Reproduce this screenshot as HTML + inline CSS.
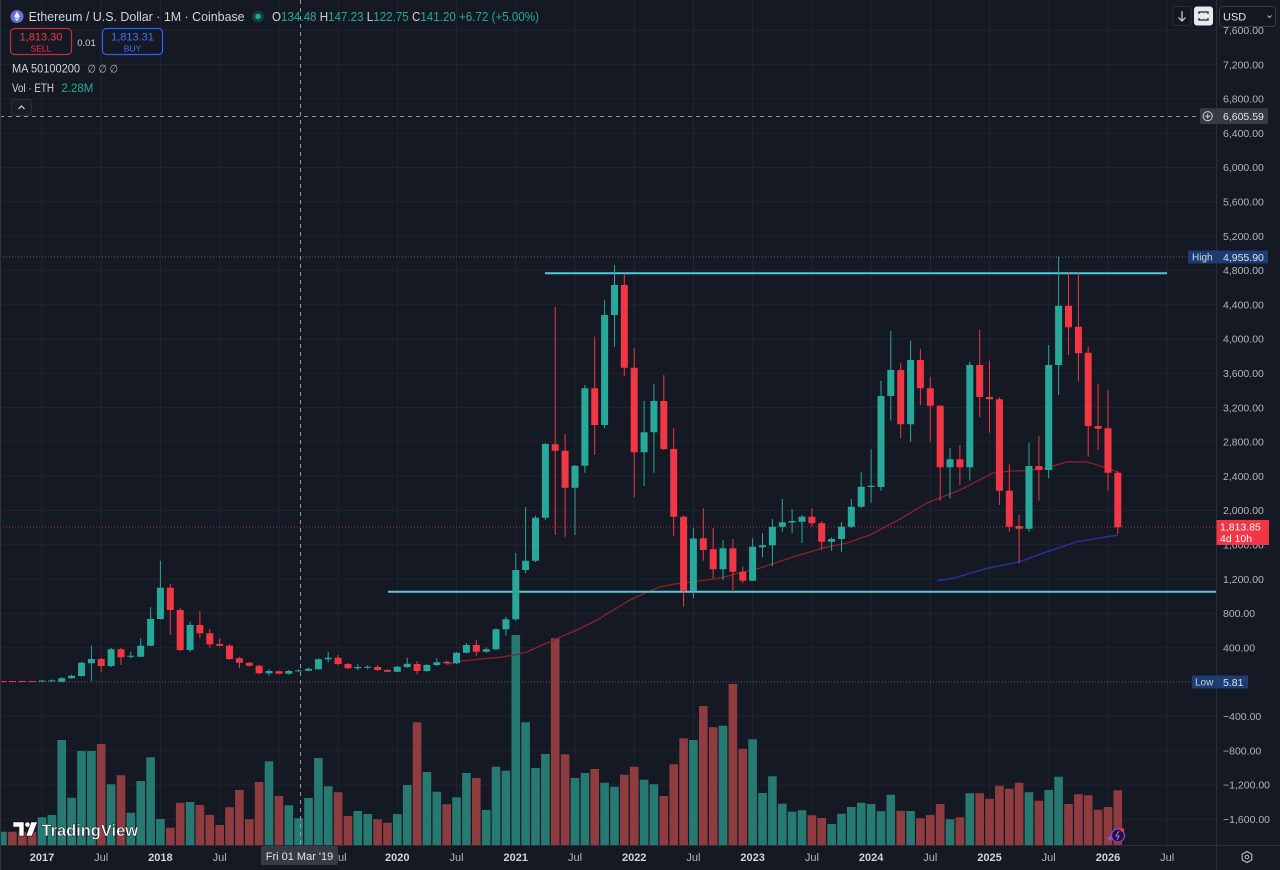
<!DOCTYPE html>
<html><head><meta charset="utf-8"><style>
html,body{margin:0;padding:0;background:#151924;}
svg{display:block;font-family:"Liberation Sans",sans-serif;}
</style></head><body>
<svg width="1280" height="870" viewBox="0 0 1280 870" xmlns="http://www.w3.org/2000/svg">
<rect width="1280" height="870" fill="#151924"/>
<!-- grid -->
<g stroke="#1f232e" stroke-width="1">
<path d="M0 30.3H1216M0 64.6H1216M0 98.9H1216M0 133.2H1216M0 167.5H1216M0 201.8H1216M0 236.1H1216M0 270.4H1216M0 304.7H1216M0 339H1216M0 373.3H1216M0 407.6H1216M0 441.9H1216M0 476.2H1216M0 510.5H1216M0 544.8H1216M0 579.1H1216M0 613.4H1216M0 647.7H1216M0 716.3H1216M0 750.6H1216M0 784.9H1216M0 819.2H1216"/>
<path d="M42 0V845M101.2 0V845M160.4 0V845M219.7 0V845M278.9 0V845M338.1 0V845M397.3 0V845M456.5 0V845M515.8 0V845M575 0V845M634.2 0V845M693.4 0V845M752.6 0V845M811.9 0V845M871.1 0V845M930.3 0V845M989.5 0V845M1048.7 0V845M1108 0V845M1167.2 0V845"/>
</g>
<!-- volume -->
<path fill="#277a72" d="M-1.8 831.7h8.6V845h-8.6zM37.7 817.3h8.6V845h-8.6zM47.6 815h8.6V845h-8.6zM57.4 740h8.6V845h-8.6zM67.3 797.7h8.6V845h-8.6zM77.2 751h8.6V845h-8.6zM87.1 751h8.6V845h-8.6zM106.8 784.3h8.6V845h-8.6zM126.5 812.7h8.6V845h-8.6zM136.4 781h8.6V845h-8.6zM146.3 757.3h8.6V845h-8.6zM156.1 819h8.6V845h-8.6zM185.8 802h8.6V845h-8.6zM264.7 761.3h8.6V845h-8.6zM284.5 805.3h8.6V845h-8.6zM294.3 818.3h8.6V845h-8.6zM304.2 798h8.6V845h-8.6zM314.1 758h8.6V845h-8.6zM323.9 786.3h8.6V845h-8.6zM353.5 811h8.6V845h-8.6zM363.4 814h8.6V845h-8.6zM393 814h8.6V845h-8.6zM402.9 785h8.6V845h-8.6zM422.6 772h8.6V845h-8.6zM432.5 791.7h8.6V845h-8.6zM452.2 797.3h8.6V845h-8.6zM462.1 773h8.6V845h-8.6zM481.9 810h8.6V845h-8.6zM491.7 766.7h8.6V845h-8.6zM501.6 770.7h8.6V845h-8.6zM511.5 635h8.6V845h-8.6zM521.3 722.3h8.6V845h-8.6zM531.2 768h8.6V845h-8.6zM541.1 754h8.6V845h-8.6zM570.7 778h8.6V845h-8.6zM580.6 773h8.6V845h-8.6zM600.3 782.7h8.6V845h-8.6zM610.2 786.7h8.6V845h-8.6zM639.8 779.7h8.6V845h-8.6zM649.6 784.3h8.6V845h-8.6zM689.1 740h8.6V845h-8.6zM718.7 725.7h8.6V845h-8.6zM748.3 739.3h8.6V845h-8.6zM758.2 793h8.6V845h-8.6zM768.1 776.3h8.6V845h-8.6zM778 803.7h8.6V845h-8.6zM787.8 811.7h8.6V845h-8.6zM797.7 810.3h8.6V845h-8.6zM827.3 824h8.6V845h-8.6zM837.2 813.7h8.6V845h-8.6zM847 807h8.6V845h-8.6zM856.9 802.7h8.6V845h-8.6zM866.8 804h8.6V845h-8.6zM876.7 811.3h8.6V845h-8.6zM886.5 794.7h8.6V845h-8.6zM906.3 811h8.6V845h-8.6zM945.7 819.3h8.6V845h-8.6zM965.5 793.3h8.6V845h-8.6zM1024.7 792.3h8.6V845h-8.6zM1044.4 790h8.6V845h-8.6zM1054.3 776.7h8.6V845h-8.6z"/>
<path fill="#8e3c40" d="M8.1 831.7h8.6V845h-8.6zM18 831.7h8.6V845h-8.6zM27.8 831.7h8.6V845h-8.6zM96.9 744h8.6V845h-8.6zM116.7 775.3h8.6V845h-8.6zM166 827.7h8.6V845h-8.6zM175.9 802.7h8.6V845h-8.6zM195.6 805h8.6V845h-8.6zM205.5 815h8.6V845h-8.6zM215.4 825h8.6V845h-8.6zM225.2 807.3h8.6V845h-8.6zM235.1 790h8.6V845h-8.6zM245 819.3h8.6V845h-8.6zM254.8 782h8.6V845h-8.6zM274.6 796h8.6V845h-8.6zM333.8 792.3h8.6V845h-8.6zM343.7 816h8.6V845h-8.6zM373.3 819.3h8.6V845h-8.6zM383.2 822.7h8.6V845h-8.6zM412.8 722.3h8.6V845h-8.6zM442.4 804.3h8.6V845h-8.6zM472 778h8.6V845h-8.6zM550.9 638.3h8.6V845h-8.6zM560.8 754.3h8.6V845h-8.6zM590.4 769h8.6V845h-8.6zM620 774.7h8.6V845h-8.6zM629.9 766.7h8.6V845h-8.6zM659.5 796h8.6V845h-8.6zM669.4 764.3h8.6V845h-8.6zM679.3 738.3h8.6V845h-8.6zM699 706h8.6V845h-8.6zM708.9 727.3h8.6V845h-8.6zM728.6 684h8.6V845h-8.6zM738.5 748.7h8.6V845h-8.6zM807.6 815.3h8.6V845h-8.6zM817.4 818h8.6V845h-8.6zM896.4 810.7h8.6V845h-8.6zM916.1 818.3h8.6V845h-8.6zM926 815h8.6V845h-8.6zM935.9 804h8.6V845h-8.6zM955.6 817.3h8.6V845h-8.6zM975.4 793.3h8.6V845h-8.6zM985.2 798.7h8.6V845h-8.6zM995.1 785.7h8.6V845h-8.6zM1005 788.7h8.6V845h-8.6zM1014.8 782.7h8.6V845h-8.6zM1034.6 800.7h8.6V845h-8.6zM1064.2 804h8.6V845h-8.6zM1074.1 794.3h8.6V845h-8.6zM1083.9 795.3h8.6V845h-8.6zM1093.8 809.7h8.6V845h-8.6zM1103.7 807h8.6V845h-8.6zM1113.5 790.3h8.6V845h-8.6z"/>
<!-- dotted / dashed lines -->
<path d="M0 257H1188" stroke="#5d606b" stroke-width="1" stroke-dasharray="1 2"/>
<path d="M0 682H1192" stroke="#5d606b" stroke-width="1" stroke-dasharray="1 2"/>
<path d="M0 527H1216" stroke="#f23645" stroke-opacity="0.7" stroke-width="1" stroke-dasharray="1 2"/>
<!-- MAs -->
<polyline fill="none" stroke="#8c2030" stroke-width="1.3" points="446,664.5 462,661 480,659 500,657.3 515,655 527,651.7 540,646 550,641.7 565,635 577,630 597,620 615,609 630,600 645,593 660,587 675,584 693,582 720,578 760,568 793,557 827,547 847,543 870,535 885,527 900,519 927,503 960,490 993,473 1010,471 1027,470.7 1047,468 1067,461.7 1087,462 1103,466.7 1118,472"/>
<polyline fill="none" stroke="#2b2f9c" stroke-width="1.5" points="937,580.7 953,578.3 987,568.3 1020,561.7 1047,551.7 1077,541.7 1100,538 1118,535"/>
<!-- cyan lines -->
<path d="M545 273.3H1167M388 591.7H1216" stroke="#55c8da" stroke-width="2"/>
<!-- candles -->
<path fill="#26a99a" d="M41.5 680h1V682h-1zM38.5 680.6h7V681.6h-7zM51.4 679.5h1V681.5h-1zM48.4 680.4h7V681.4h-7zM61.2 677h1V682h-1zM58.2 678.3h7V681.7h-7zM71.1 674.5h1V678.8h-1zM68.1 675.7h7V678.3h-7zM81 662h1V676.5h-1zM78 662.7h7V676h-7zM90.9 645.7h1V681h-1zM87.9 659h7V663.3h-7zM110.6 648h1V667h-1zM107.6 649.3h7V666h-7zM130.3 651.7h1V658.3h-1zM127.3 655.7h7V656.7h-7zM140.2 638.3h1V657h-1zM137.2 645.7h7V656.7h-7zM150.1 607.3h1V646h-1zM147.1 619h7V645.7h-7zM159.9 560.7h1V619.5h-1zM156.9 587.7h7V619h-7zM189.6 621.7h1V651.7h-1zM186.6 625h7V650h-7zM268.5 669.3h1V675.7h-1zM265.5 671h7V673.3h-7zM288.3 670h1V674.5h-1zM285.3 671h7V673.7h-7zM298.1 669.4h1V671.8h-1zM295.1 670.4h7V671.4h-7zM308 667.5h1V671.3h-1zM305 668.7h7V670.7h-7zM317.9 658.3h1V669.7h-1zM314.9 659.3h7V669.3h-7zM327.7 651.7h1V662.3h-1zM324.7 657.7h7V659.3h-7zM357.3 664.3h1V670h-1zM354.3 667h7V668.3h-7zM367.2 665.3h1V669.3h-1zM364.2 666.7h7V667.7h-7zM396.8 666h1V672h-1zM393.8 666.7h7V671.7h-7zM406.7 657.7h1V668h-1zM403.7 663.7h7V667h-7zM426.4 664.5h1V672h-1zM423.4 665h7V671h-7zM436.3 658.3h1V666h-1zM433.3 662.3h7V665h-7zM456 652h1V664h-1zM453 652.7h7V663.3h-7zM465.9 643.3h1V653.5h-1zM462.9 645h7V652.7h-7zM485.7 647.3h1V653h-1zM482.7 649.3h7V651.7h-7zM495.5 628.3h1V650h-1zM492.5 629.3h7V649.3h-7zM505.4 616.7h1V636h-1zM502.4 619.3h7V629.3h-7zM515.3 553h1V621h-1zM512.3 570h7V619.3h-7zM525.1 507h1V573.3h-1zM522.1 560.7h7V570h-7zM535 515.7h1V562h-1zM532 517.7h7V560.7h-7zM544.9 443h1V520h-1zM541.9 444h7V517.7h-7zM574.5 465h1V535h-1zM571.5 465.7h7V487.7h-7zM584.4 385h1V472.7h-1zM581.4 388.3h7V465.7h-7zM604.1 300h1V428h-1zM601.1 315h7V425h-7zM614 265h1V346.7h-1zM611 285h7V315h-7zM643.6 401h1V486h-1zM640.6 432.3h7V452.3h-7zM653.4 384.3h1V472.7h-1zM650.4 401h7V432.3h-7zM692.9 528h1V598.3h-1zM689.9 538.5h7V591h-7zM722.5 540h1V580h-1zM719.5 548.3h7V569.3h-7zM752.1 538.3h1V581h-1zM749.1 546.7h7V580.7h-7zM762 533.3h1V557.3h-1zM759 545.3h7V547.3h-7zM771.9 519h1V566h-1zM768.9 526.7h7V545.3h-7zM781.8 499h1V531.7h-1zM778.8 522.3h7V526.7h-7zM791.6 509h1V533h-1zM788.6 521h7V522.5h-7zM801.5 515h1V543h-1zM798.5 516.7h7V521.7h-7zM831.1 537.3h1V550.7h-1zM828.1 539h7V541.7h-7zM841 522.3h1V551.7h-1zM838 526.7h7V539h-7zM850.8 499h1V528h-1zM847.8 506.7h7V526.7h-7zM860.7 472.3h1V508.3h-1zM857.7 486.7h7V506.7h-7zM870.6 449.3h1V502.7h-1zM867.6 485.7h7V487h-7zM880.5 380.7h1V490.7h-1zM877.5 396h7V487h-7zM890.3 330.7h1V420.5h-1zM887.3 370h7V396h-7zM910.1 340.7h1V441.7h-1zM907.1 360h7V424.3h-7zM949.5 448.3h1V498.3h-1zM946.5 459.3h7V467.3h-7zM969.3 361.7h1V480.7h-1zM966.3 365h7V467.3h-7zM1028.5 442.7h1V531.7h-1zM1025.5 466h7V528.7h-7zM1048.2 345h1V478.3h-1zM1045.2 365h7V470h-7zM1058.1 256.7h1V395h-1zM1055.1 305.7h7V365h-7z"/>
<path fill="#f23645" d="M-1 681h7v1h-7zM8.9 681h7v1h-7zM18.8 681h7v1h-7zM28.6 681h7v1h-7zM100.7 657.7h1V671.7h-1zM97.7 659h7V666h-7zM120.5 648h1V665h-1zM117.5 649.3h7V657.3h-7zM169.8 584.3h1V635h-1zM166.8 587.7h7V610h-7zM179.7 607.7h1V651h-1zM176.7 610h7V650h-7zM199.4 611h1V638.3h-1zM196.4 625h7V633.3h-7zM209.3 629h1V647.7h-1zM206.3 633.3h7V644.3h-7zM219.2 638.3h1V646.7h-1zM216.2 644h7V645.7h-7zM229 644.3h1V660h-1zM226 645.7h7V659h-7zM238.9 656.7h1V668.3h-1zM235.9 658.3h7V662.7h-7zM248.8 662h1V666.5h-1zM245.8 662.7h7V665.7h-7zM258.6 665h1V674.3h-1zM255.6 665.7h7V673.3h-7zM278.4 670.5h1V674.3h-1zM275.4 671.3h7V673.7h-7zM337.6 655h1V665.3h-1zM334.6 657.7h7V664h-7zM347.5 663h1V669h-1zM344.5 664h7V668.3h-7zM377.1 665h1V671h-1zM374.1 667h7V670h-7zM387 669.3h1V672.3h-1zM384 670h7V671.7h-7zM416.6 661h1V674.3h-1zM413.6 664h7V671h-7zM446.2 660.7h1V664h-1zM443.2 661.7h7V663.3h-7zM475.8 640h1V655.7h-1zM472.8 645h7V651.7h-7zM554.7 306.7h1V535h-1zM551.7 444.3h7V450.7h-7zM564.6 434h1V536.7h-1zM561.6 450.7h7V487.7h-7zM594.2 336.7h1V455h-1zM591.2 388.3h7V425h-7zM623.8 273.3h1V376h-1zM620.8 285h7V367.7h-7zM633.7 348.3h1V497.3h-1zM630.7 367.7h7V452.3h-7zM663.3 375h1V450h-1zM660.3 401h7V449h-7zM673.2 428.3h1V536h-1zM670.2 449h7V516.7h-7zM683.1 515.5h1V606.7h-1zM680.1 516.7h7V591h-7zM702.8 508.3h1V560.7h-1zM699.8 538.3h7V550h-7zM712.7 528h1V578.3h-1zM709.7 549.3h7V569.3h-7zM732.4 539h1V591.7h-1zM729.4 548.3h7V571.7h-7zM742.3 566.7h1V583.3h-1zM739.3 571.7h7V580.7h-7zM811.4 508.3h1V526.7h-1zM808.4 516.7h7V523.3h-7zM821.2 521h1V550h-1zM818.2 523.3h7V541.7h-7zM900.2 363.3h1V438.3h-1zM897.2 370h7V424.3h-7zM919.9 348.7h1V405h-1zM916.9 360h7V388.3h-7zM929.8 376.7h1V441.7h-1zM926.8 388.3h7V405.7h-7zM939.7 405h1V500.7h-1zM936.7 405.7h7V467.3h-7zM959.4 445h1V485h-1zM956.4 459.3h7V467.3h-7zM979.2 330h1V417.3h-1zM976.2 365h7V397h-7zM989 360.7h1V432.7h-1zM986 397h7V399.3h-7zM998.9 397.3h1V505h-1zM995.9 399.3h7V490.7h-7zM1008.8 464.3h1V531.7h-1zM1005.8 490.7h7V526.7h-7zM1018.6 515h1V563.3h-1zM1015.6 526h7V528.7h-7zM1038.4 435.7h1V500.7h-1zM1035.4 466h7V470h-7zM1068 272.7h1V355h-1zM1065 305.7h7V327.3h-7zM1077.9 272.7h1V381.7h-1zM1074.9 326.7h7V353.3h-7zM1087.7 346.7h1V456.7h-1zM1084.7 352.7h7V426h-7zM1097.6 384.3h1V450h-1zM1094.6 426h7V428.7h-7zM1107.5 390h1V490.7h-1zM1104.5 428.3h7V472.7h-7zM1117.3 470.7h1V534h-1zM1114.3 472.7h7V527.3h-7z"/>
<!-- crosshair -->
<path d="M0 116.5H1200" stroke="#9598a1" stroke-width="1" stroke-dasharray="4 4"/>
<path d="M300.5 0V845" stroke="#9598a1" stroke-width="1" stroke-dasharray="4 4"/>
<!-- axes borders -->
<path d="M1216.5 0V870M0 845.5H1280" stroke="#2a2e39" stroke-width="1"/>
<path d="M0.5 0V870" stroke="#2f333e" stroke-width="1"/>
<!-- price axis labels -->
<g fill="#b2b5be" font-size="10.5">
<text x="1223" y="34">7,600.00</text>
<text x="1223" y="68.3">7,200.00</text>
<text x="1223" y="102.6">6,800.00</text>
<text x="1223" y="136.9">6,400.00</text>
<text x="1223" y="171.2">6,000.00</text>
<text x="1223" y="205.5">5,600.00</text>
<text x="1223" y="239.8">5,200.00</text>
<text x="1223" y="274.1">4,800.00</text>
<text x="1223" y="308.4">4,400.00</text>
<text x="1223" y="342.7">4,000.00</text>
<text x="1223" y="377">3,600.00</text>
<text x="1223" y="411.3">3,200.00</text>
<text x="1223" y="445.6">2,800.00</text>
<text x="1223" y="479.9">2,400.00</text>
<text x="1223" y="514.2">2,000.00</text>
<text x="1223" y="548.5">1,600.00</text>
<text x="1223" y="582.8">1,200.00</text>
<text x="1223" y="617.1">800.00</text>
<text x="1223" y="651.4">400.00</text>
<text x="1223" y="720">−400.00</text>
<text x="1223" y="754.3">−800.00</text>
<text x="1223" y="788.6">−1,200.00</text>
<text x="1223" y="822.9">−1,600.00</text>
</g>
<!-- price labels -->
<rect x="1200" y="108.3" width="68" height="15.7" fill="#363a45" rx="1"/>
<circle cx="1207.7" cy="116.2" r="4.6" fill="none" stroke="#d1d4dc" stroke-width="1"/>
<path d="M1205.2 116.2h5M1207.7 113.7v5" stroke="#d1d4dc" stroke-width="1"/>
<text x="1223" y="120" fill="#e0e3eb" font-size="10.5">6,605.59</text>
<rect x="1188" y="250.5" width="80" height="13" fill="#1c3c74"/>
<text x="1192" y="260.7" fill="#d1d4dc" font-size="10">High</text>
<text x="1223" y="260.9" fill="#e0e3eb" font-size="10.5">4,955.90</text>
<rect x="1216.5" y="520" width="52.5" height="25" fill="#f23645"/>
<text x="1220" y="530.5" fill="#fff" font-size="10.5">1,813.85</text>
<text x="1220" y="542" fill="#fff" font-size="10.5">4d 10h</text>
<rect x="1192" y="675.5" width="56" height="13" fill="#1c3c74"/>
<text x="1195" y="685.6" fill="#d1d4dc" font-size="10">Low</text>
<text x="1223" y="685.8" fill="#e0e3eb" font-size="10.5">5.81</text>
<!-- top right buttons -->
<rect x="1173" y="6.5" width="18" height="19" rx="3" fill="#131722" stroke="#2a2e39"/>
<path d="M1182 11v10M1178.5 17.5l3.5 3.5 3.5-3.5" stroke="#d1d4dc" stroke-width="1.2" fill="none"/>
<rect x="1194" y="6.5" width="19" height="19" rx="3" fill="#e8e9ec"/>
<path d="M1199 14v-2h9v2M1208 18v2h-9v-2" stroke="#1e222d" stroke-width="1.3" fill="none"/>
<rect x="1219.5" y="6.5" width="56" height="20" rx="3" fill="#131722" stroke="#363a45"/>
<text x="1223" y="20.5" fill="#e0e3eb" font-size="11">USD</text>
<path d="M1267.5 15.5l2 2 2-2" stroke="#b2b5be" stroke-width="1" fill="none"/>
<!-- bottom axis -->
<g font-size="11" text-anchor="middle">
<g fill="#d1d4dc" font-weight="bold">
<text x="42" y="861">2017</text>
<text x="160.4" y="861">2018</text>
<text x="397.3" y="861">2020</text>
<text x="515.8" y="861">2021</text>
<text x="634.2" y="861">2022</text>
<text x="752.6" y="861">2023</text>
<text x="871.1" y="861">2024</text>
<text x="989.5" y="861">2025</text>
<text x="1108" y="861">2026</text>
</g>
<g fill="#b2b5be">
<text x="101.2" y="861">Jul</text>
<text x="219.7" y="861">Jul</text>
<text x="339.5" y="861">Jul</text>
<text x="456.5" y="861">Jul</text>
<text x="575" y="861">Jul</text>
<text x="693.4" y="861">Jul</text>
<text x="811.9" y="861">Jul</text>
<text x="930.3" y="861">Jul</text>
<text x="1048.7" y="861">Jul</text>
<text x="1167.2" y="861">Jul</text>
</g>
</g>
<rect x="261" y="846" width="77" height="19" rx="2" fill="#363a45"/>
<text x="299.5" y="860" fill="#e0e3eb" font-size="11" text-anchor="middle">Fri 01 Mar '19</text>
<path d="M1247 851.5l4.8 2.75v5.5l-4.8 2.75-4.8-2.75v-5.5z" fill="none" stroke="#b2b5be" stroke-width="1.2"/>
<circle cx="1247" cy="857" r="1.8" fill="none" stroke="#b2b5be" stroke-width="1.1"/>
<!-- purple icon -->
<circle cx="1118" cy="835.5" r="6.5" fill="#1e1433" stroke="#9a3be0" stroke-width="1.3"/>
<path d="M1119 831l-3 5h3l-2 4" stroke="#b06cf0" stroke-width="1.1" fill="none"/>
<circle cx="1122.5" cy="830" r="1.8" fill="#f23645"/>
<path d="M1110 835.5l1 2 2 1-2 1-1 2-1-2-2-1 2-1z" fill="#7c5cff"/>
<!-- TradingView logo -->
<g fill="#ffffff" stroke="#0b0e14" stroke-width="0.6">
<path d="M13 822h11v14h-5v-9h-6z"/>
<circle cx="27.5" cy="824.6" r="2.6"/>
<path d="M31 822h6.5l-5.5 14h-6z"/>
</g>
<text x="41.5" y="836" fill="#ffffff" font-size="17" font-weight="bold" textLength="96.5" lengthAdjust="spacingAndGlyphs" stroke="#0b0e14" stroke-width="0.4">TradingView</text>
<!-- header -->
<circle cx="17" cy="16.5" r="6.5" fill="#6272d8"/>
<path d="M17 11.5l-3 5 3 1.8 3-1.8zM14 17.2l3 4 3-4-3 1.8z" fill="#e8ecff"/>
<text x="28.6" y="21" fill="#d1d4dc" font-size="13" textLength="216" lengthAdjust="spacingAndGlyphs">Ethereum / U.S. Dollar · 1M · Coinbase</text>
<circle cx="258" cy="16.5" r="6" fill="#22ab94" fill-opacity="0.22"/>
<circle cx="258" cy="16.5" r="2.8" fill="#22ab94"/>
<text x="272" y="21" font-size="13" textLength="267" lengthAdjust="spacingAndGlyphs"><tspan fill="#d1d4dc">O</tspan><tspan fill="#22ab94">134.48 </tspan><tspan fill="#d1d4dc">H</tspan><tspan fill="#22ab94">147.23 </tspan><tspan fill="#d1d4dc">L</tspan><tspan fill="#22ab94">122.75 </tspan><tspan fill="#d1d4dc">C</tspan><tspan fill="#22ab94">141.20 +6.72 (+5.00%)</tspan></text>
<rect x="10.5" y="28.5" width="61" height="26" rx="4" fill="#151924" stroke="#c92d3b" stroke-width="1.2"/>
<text x="41" y="40.5" fill="#f23645" font-size="11" text-anchor="middle">1,813.30</text>
<text x="41" y="51.5" fill="#f23645" font-size="8.5" text-anchor="middle">SELL</text>
<text x="86.5" y="46" fill="#d1d4dc" font-size="9.5" text-anchor="middle">0.01</text>
<rect x="102.5" y="28.5" width="60" height="26" rx="4" fill="#151924" stroke="#2962ff" stroke-width="1.2"/>
<text x="132.5" y="40.5" fill="#3d72ff" font-size="11" text-anchor="middle">1,813.31</text>
<text x="132.5" y="51.5" fill="#3d72ff" font-size="8.5" text-anchor="middle">BUY</text>
<text x="12" y="72.5" fill="#d1d4dc" font-size="12" textLength="68" lengthAdjust="spacingAndGlyphs">MA 50100200</text>
<text x="87.5" y="72.5" fill="#b2b5be" font-size="11" textLength="30.5" lengthAdjust="spacingAndGlyphs">∅ ∅ ∅</text>
<text x="12" y="92" fill="#d1d4dc" font-size="12" textLength="42" lengthAdjust="spacingAndGlyphs">Vol · ETH</text>
<text x="61.4" y="92" fill="#22ab94" font-size="12" textLength="32" lengthAdjust="spacingAndGlyphs">2.28M</text>
<rect x="11.5" y="99.5" width="20" height="16" rx="3" fill="#1a1e29" stroke="#2a2e39"/>
<path d="M18.5 109l3-3 3 3" stroke="#d1d4dc" stroke-width="1.2" fill="none"/>
</svg>
</body></html>
